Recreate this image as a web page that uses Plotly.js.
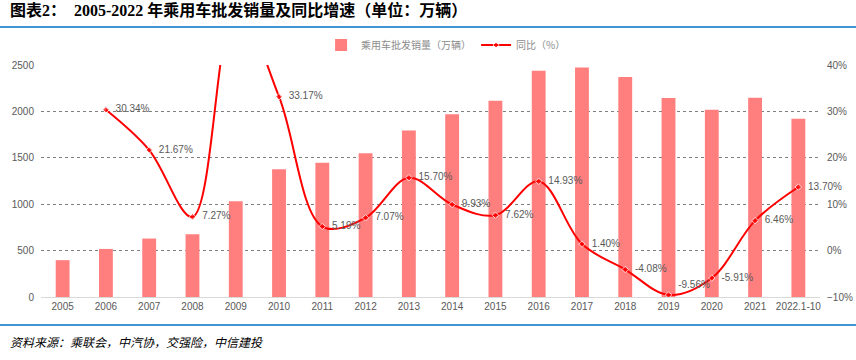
<!DOCTYPE html>
<html>
<head>
<meta charset="utf-8">
<script src="https://cdn.plot.ly/plotly-3.0.1.min.js"></script>
<style>
html,body{margin:0;padding:0;background:#fff;}
#chart{width:856px;height:360px;}
</style>
</head>
<body>
<div id="chart"></div>
<script>
var categories = ["2005","2006","2007","2008","2009","2010","2011","2012","2013","2014","2015","2016","2017","2018","2019","2020","2021","2022.1-10"];
var salesValues = [397, 518, 630, 676, 1033, 1376, 1447, 1550, 1793, 1970, 2115, 2438, 2472, 2371, 2144, 2018, 2148, 1920];
var growthValues = [null, 30.34, 21.67, 7.27, 52.93, 33.17, 5.19, 7.07, 15.70, 9.93, 7.62, 14.93, 1.40, -4.08, -9.56, -5.91, 6.46, 13.70];
var growthLabels = ["", "30.34%", "21.67%", "7.27%", "", "33.17%", "5.19%", "7.07%", "15.70%", "9.93%", "7.62%", "14.93%", "1.40%", "-4.08%", "-9.56%", "-5.91%", "6.46%", "13.70%"];
var labelPositions = categories.map(function(c){ return c === "2019" ? "top right" : "middle right"; });
// point off the top of the axis (2009) keeps no visible marker
var markerSizes = growthValues.map(function(v){ return (v !== null && v > 40) ? 0 : 5; });
var paddedLabels = growthLabels.map(function(t){ return t ? "\u00A0\u00A0" + t : ""; });

var axisFont = {family: "Liberation Sans, Arial, sans-serif", size: 10, color: "#595959"};

var traces = [
  {
    type: "bar",
    name: "乘用车批发销量（万辆）",
    x: categories,
    y: salesValues,
    marker: {color: "#FF7F7F"},
    yaxis: "y",
    hoverinfo: "x+y"
  },
  {
    type: "scatter",
    name: "同比（%）",
    x: categories,
    y: growthValues,
    yaxis: "y2",
    mode: "lines+markers+text",
    line: {color: "#FF0000", width: 2, shape: "spline", smoothing: 1},
    marker: {color: "#FF0000", size: markerSizes, symbol: "diamond"},
    text: paddedLabels,
    textposition: labelPositions,
    textfont: {family: "Liberation Sans, Arial, sans-serif", size: 10, color: "#595959"},
    cliponaxis: false,
    connectgaps: false
  }
];

var layout = {
  width: 856,
  height: 360,
  margin: {l: 41, r: 36, t: 65, b: 63, pad: 0, autoexpand: false},
  paper_bgcolor: "#ffffff",
  plot_bgcolor: "#ffffff",
  bargap: 0.68,
  showlegend: true,
  legend: {
    orientation: "h",
    x: 0.52, xanchor: "center",
    y: 1.086, yanchor: "middle",
    font: {family: "Noto Sans CJK SC, sans-serif", size: 10, color: "#8c8c8c"},
    traceorder: "normal"
  },
  xaxis: {
    type: "category",
    range: [-0.5, 17.5],
    autorange: false,
    automargin: false,
    tickfont: axisFont,
    showgrid: false,
    showline: true,
    linecolor: "#d9d9d9",
    linewidth: 1,
    ticks: "",
    fixedrange: true
  },
  yaxis: {
    range: [0, 2500],
    dtick: 500,
    automargin: false,
    tickfont: axisFont,
    showgrid: true,
    gridcolor: "#7f7f7f",
    griddash: "dot",
    gridwidth: 1,
    zeroline: false,
    showline: false,
    ticks: "",
    ticklabelstandoff: 6,
    fixedrange: true
  },
  yaxis2: {
    overlaying: "y",
    side: "right",
    range: [-10, 40],
    dtick: 10,
    automargin: false,
    ticksuffix: "%",
    tickfont: axisFont,
    showgrid: false,
    zeroline: false,
    showline: false,
    ticks: "",
    ticklabelstandoff: 6,
    fixedrange: true
  },
  annotations: [
    {
      xref: "paper", yref: "paper",
      x: -0.042, y: 1.238, xanchor: "left", yanchor: "middle",
      showarrow: false,
      text: "<b>图表2：  2005-2022 年乘用车批发销量及同比增速（单位：万辆）</b>",
      font: {family: "Liberation Serif, Times New Roman, Noto Sans CJK SC, serif", size: 16, color: "#000000"}
    },
    {
      xref: "paper", yref: "paper",
      x: -0.042, y: -0.19, xanchor: "left", yanchor: "middle",
      showarrow: false,
      text: "<i>资料来源：乘联会，中汽协，交强险，中信建投</i>",
      font: {family: "Noto Sans CJK SC, sans-serif", size: 12, color: "#000000"}
    }
  ],
  shapes: [
    {type: "line", xref: "paper", yref: "paper", x0: -0.0526, x1: 1.0462, y0: 1.1638, y1: 1.1638,
     line: {color: "#0070C0", width: 1.5}},
    {type: "line", xref: "paper", yref: "paper", x0: -0.0526, x1: 1.0462, y0: -0.1207, y1: -0.1207,
     line: {color: "#0070C0", width: 1.5}}
  ]
};

Plotly.newPlot("chart", traces, layout, {displayModeBar: false, staticPlot: true});
</script>
</body>
</html>
